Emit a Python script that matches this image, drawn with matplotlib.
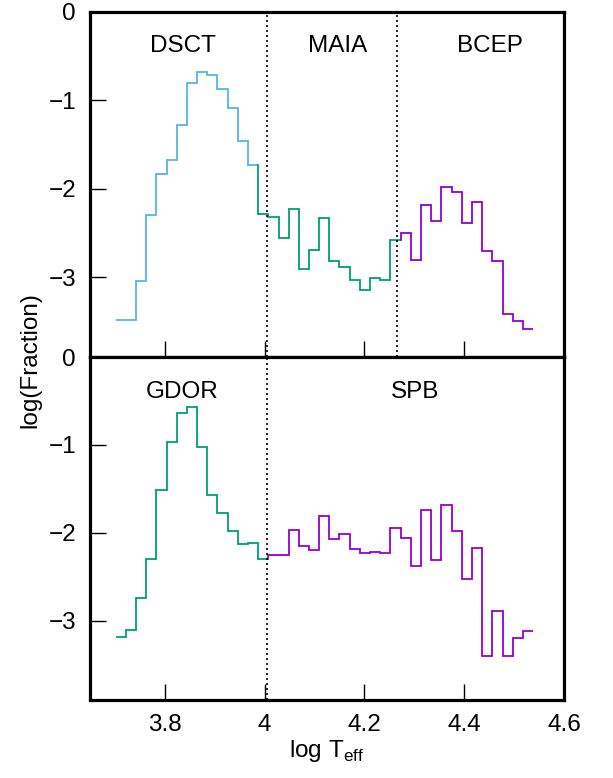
import matplotlib.pyplot as plt

plt.rcParams['font.family'] = ['Liberation Sans', 'DejaVu Sans']
plt.rcParams['font.size'] = 17.5

# bordes de los bins en log Teff
bordes = [3.702, 3.722, 3.742, 3.763, 3.783, 3.804, 3.824, 3.844, 3.865, 3.885,
          3.905, 3.926, 3.946, 3.967, 3.987, 4.007, 4.028, 4.048, 4.069, 4.089,
          4.109, 4.130, 4.150, 4.171, 4.191, 4.211, 4.232, 4.252, 4.273, 4.293,
          4.313, 4.334, 4.354, 4.375, 4.395, 4.415, 4.436, 4.456, 4.477, 4.497,
          4.517, 4.538]

# panel superior
dsct = [-3.485, -3.485, -3.04, -2.295, -1.833, -1.674, -1.28, -0.807, -0.678,
        -0.716, -0.871, -1.08, -1.462, -1.724]
maia = [-2.28, -2.318, -2.56, -2.224, -2.905, -2.693, -2.326, -2.818, -2.883,
        -3.034, -3.144, -3.008, -3.034, -2.572]
bcep = [-2.50, -2.807, -2.186, -2.367, -1.977, -2.03, -2.39, -2.144, -2.705,
        -2.818, -3.409, -3.489, -3.583]

# panel inferior
gdor = [-3.186, -3.107, -2.741, -2.299, -1.514, -0.966, -0.642, -0.563, -1.019,
        -1.574, -1.778, -1.974, -2.129, -2.114, -2.299]
spb = [-2.254, -2.254, -1.963, -2.148, -2.19, -1.812, -2.065, -2.012, -2.182,
       -2.231, -2.212, -2.231, -1.944, -2.061, -2.378, -1.74, -2.303, -1.687,
       -1.982, -2.522, -2.167, -3.405, -2.888, -3.405, -3.19, -3.111]

limites_top = [4.005, 4.265]
limites_bot = [4.005]

azul = '#56B4E9'
verde = '#009E73'
morado = '#9400D3'


def escalones(ax, inicio, valores, color, previo=None):
    x = bordes[inicio:inicio + len(valores) + 1]
    ax.stairs(valores, x, baseline=None, color=color, lw=1.3)
    if previo is not None:
        ax.plot([x[0], x[0]], [previo, valores[0]], color=color, lw=1.3)


def preparar(ax):
    ax.set_xlim(3.65, 4.6)
    ax.set_ylim(-3.9, 0)
    ax.set_xticks([3.8, 4.0, 4.2, 4.4, 4.6])
    ax.set_xticklabels(['3.8', '4', '4.2', '4.4', '4.6'])
    ax.set_yticks([0, -1, -2, -3])
    ax.set_yticklabels(['0', '\u22121', '\u22122', '\u22123'])
    ax.tick_params(direction='in', length=11.5, width=1, pad=10)
    for s in ax.spines.values():
        s.set_linewidth(2.3)


fig = plt.figure(figsize=(6.13, 7.78), dpi=100)
ax1 = fig.add_axes([0.1468, 0.5411, 0.7732, 0.4435])
ax2 = fig.add_axes([0.1468, 0.1003, 0.7732, 0.4408])

preparar(ax1)
preparar(ax2)
ax1.tick_params(labelbottom=False)

escalones(ax1, 0, dsct, azul)
escalones(ax1, 14, maia, verde, dsct[-1])
escalones(ax1, 28, bcep, morado, maia[-1])
for x in limites_top:
    ax1.axvline(x, color='black', lw=1.2, ls=(0, (1.2, 1.8)))

escalones(ax2, 0, gdor, verde)
escalones(ax2, 15, spb, morado, gdor[-1])
for x in limites_bot:
    ax2.axvline(x, color='black', lw=1.2, ls=(0, (1.2, 1.8)))

ax1.text(3.837, -0.38, 'DSCT', ha='center', va='center')
ax1.text(4.147, -0.38, 'MAIA', ha='center', va='center')
ax1.text(4.452, -0.38, 'BCEP', ha='center', va='center')
ax2.text(3.835, -0.40, 'GDOR', ha='center', va='center')
ax2.text(4.302, -0.40, 'SPB', ha='center', va='center')

fig.text(30 / 613, 1 - 360 / 778, 'log(Fraction)', rotation=90,
         ha='center', va='center')
fig.text(327 / 613, 0.027, r'log T$_{\mathregular{eff}}$',
         ha='center', va='baseline')

fig.savefig('out.png', dpi=100)
